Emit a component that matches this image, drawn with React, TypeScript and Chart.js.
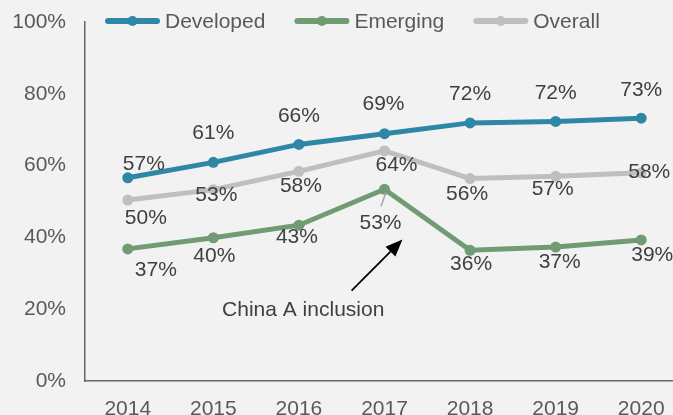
import React, { useEffect, useRef } from "react";
import { Chart, registerables } from "chart.js";

Chart.register(...registerables);

// ---- data ----
const years = ["2014", "2015", "2016", "2017", "2018", "2019", "2020"];
const developed = [56.6, 60.9, 65.9, 68.9, 71.9, 72.3, 73.2];
const emerging = [36.8, 39.9, 43.4, 53.4, 36.4, 37.3, 39.3];
const overall = [50.4, 53.3, 58.4, 64.1, 56.4, 57.0, 58.0];
const seriesNames = ["Developed", "Emerging", "Overall"];
const yMin = 0;
const yMax = 100;
const yStep = 20;
const annotationText = "China A inclusion";

// ---- styles ----
const colors = ["#2E87A5", "#709B73", "#BFBFBF"];
const textColor = "#595959";
const labelColor = "#404040";
const axisColor = "#666666";
const fontFamily = "'Liberation Sans', Arial, sans-serif";
const fontSize = 21;

// label nudges (px) relative to each point: [dx, dy]
const nudgeDeveloped = [[16, -14], [0, -29], [0, -28], [-1, -29], [0, -29], [0, -28], [0, -28]];
const nudgeEmerging = [[28, 21], [1, 18], [-2, 12], [-4, 34], [1, 14], [4, 15], [11, 15]];
const nudgeOverall = [[18, 18], [3, 6], [2, 15], [12, 14], [-3, 16], [-3, 13], [8, -1]];
const nudges = [nudgeDeveloped, nudgeEmerging, nudgeOverall];

const labelsPlugin = {
  id: "valueLabels",
  afterDatasetsDraw(chart: any) {
    const ctx = chart.ctx;
    ctx.save();
    ctx.font = `${fontSize}px ${fontFamily}`;
    ctx.fillStyle = labelColor;
    ctx.textAlign = "center";
    ctx.textBaseline = "middle";
    chart.data.datasets.forEach((ds: any, i: number) => {
      const meta = chart.getDatasetMeta(i);
      meta.data.forEach((el: any, j: number) => {
        const [dx, dy] = nudges[i][j];
        ctx.fillText(`${Math.round(ds.data[j])}%`, el.x + dx, el.y + dy);
      });
    });
    // leader line for Emerging 2017 label
    const p = chart.getDatasetMeta(1).data[3];
    ctx.strokeStyle = "#A6A6A6";
    ctx.lineWidth = 1.5;
    ctx.beginPath();
    ctx.moveTo(p.x + 1.5, p.y + 3);
    ctx.lineTo(p.x - 3.5, p.y + 17);
    ctx.stroke();
    ctx.restore();
  },
};

const annotationPlugin = {
  id: "annotationArrow",
  afterDraw(chart: any) {
    const ctx = chart.ctx;
    const xs = chart.scales.x;
    const ys = chart.scales.y;
    const x1 = xs.getPixelForValue(2.615);
    const y1 = ys.getPixelForValue(25.2);
    const x2 = xs.getPixelForValue(3.21);
    const y2 = ys.getPixelForValue(39.4);
    const ang = Math.atan2(y2 - y1, x2 - x1);
    const headLen = 17;
    const headW = 7;
    ctx.save();
    ctx.strokeStyle = "#000";
    ctx.fillStyle = "#000";
    ctx.lineWidth = 1.75;
    const bx = x2 - headLen * Math.cos(ang);
    const by = y2 - headLen * Math.sin(ang);
    ctx.beginPath();
    ctx.moveTo(x1, y1);
    ctx.lineTo(bx, by);
    ctx.stroke();
    ctx.beginPath();
    ctx.moveTo(x2, y2);
    ctx.lineTo(bx + headW * Math.sin(ang), by - headW * Math.cos(ang));
    ctx.lineTo(bx - headW * Math.sin(ang), by + headW * Math.cos(ang));
    ctx.closePath();
    ctx.fill();
    ctx.font = `${fontSize}px ${fontFamily}`;
    ctx.fillStyle = labelColor;
    ctx.textAlign = "center";
    ctx.textBaseline = "middle";
    ctx.fillText(annotationText, xs.getPixelForValue(2.05), ys.getPixelForValue(19.6));
    ctx.restore();
  },
};

const legendPlugin = {
  id: "lineLegend",
  afterDraw(chart: any) {
    const ctx = chart.ctx;
    ctx.save();
    ctx.font = `${fontSize}px ${fontFamily}`;
    ctx.textAlign = "left";
    ctx.textBaseline = "middle";
    let x = 105;
    const y = 21;
    const lineLen = 55;
    chart.data.datasets.forEach((ds: any) => {
      ctx.strokeStyle = ds.borderColor;
      ctx.lineWidth = 6;
      ctx.lineCap = "round";
      ctx.beginPath();
      ctx.moveTo(x + 3, y);
      ctx.lineTo(x + lineLen - 3, y);
      ctx.stroke();
      ctx.fillStyle = ds.borderColor;
      ctx.beginPath();
      ctx.arc(x + lineLen / 2, y, 5, 0, Math.PI * 2);
      ctx.fill();
      ctx.fillStyle = textColor;
      ctx.fillText(ds.label, x + lineLen + 5, y + 1);
      x += lineLen + 5 + ctx.measureText(ds.label).width + 29;
    });
    ctx.restore();
  },
};

export default function App() {
  const ref = useRef<HTMLCanvasElement | null>(null);
  useEffect(() => {
    if (!ref.current) return;
    const mk = (label: string, data: number[], color: string) => ({
      label,
      data,
      borderColor: color,
      backgroundColor: color,
      pointBackgroundColor: color,
      pointBorderColor: color,
      borderWidth: 5,
      pointRadius: 5.5,
      pointBorderWidth: 0,
      tension: 0,
      fill: false,
    });
    const chart = new Chart(ref.current, {
      type: "line",
      data: {
        labels: years,
        datasets: [
          mk(seriesNames[0], developed, colors[0]),
          mk(seriesNames[1], emerging, colors[1]),
          mk(seriesNames[2], overall, colors[2]),
        ],
      },
      options: {
        responsive: false,
        animation: false,
        layout: { padding: { top: 22, right: 16, left: 0, bottom: 0 } },
        plugins: {
          legend: { display: false },
          tooltip: { enabled: false },
        },
        scales: {
          x: {
            offset: true,
            grid: { display: false, drawTicks: false },
            border: { display: true, color: axisColor, width: 1.5 },
            ticks: {
              color: textColor,
              font: { family: fontFamily, size: fontSize },
              padding: 16,
            },
            afterFit: (s: any) => {
              s.height = 44;
              s.paddingLeft = 0;
              s.paddingRight = 0;
            },
          },
          y: {
            min: yMin,
            max: yMax,
            grid: { display: false, drawTicks: false },
            border: { display: true, color: axisColor, width: 1.5 },
            ticks: {
              stepSize: yStep,
              color: textColor,
              font: { family: fontFamily, size: fontSize },
              padding: 19,
              callback: (v: any) => `${v}%`,
            },
            afterFit: (s: any) => {
              s.width = 85;
              s.paddingTop = 0;
              s.paddingBottom = 0;
            },
          },
        },
      },
      plugins: [labelsPlugin, annotationPlugin, legendPlugin],
    } as any);
    return () => chart.destroy();
  }, []);
  return (
    <div
      style={{
        position: "fixed",
        left: 0,
        top: 0,
        width: 673,
        height: 415,
        overflow: "hidden",
        background: "#F2F2F2",
      }}
    >
      <canvas ref={ref} width={700} height={425} style={{ display: "block" }} />
    </div>
  );
}
